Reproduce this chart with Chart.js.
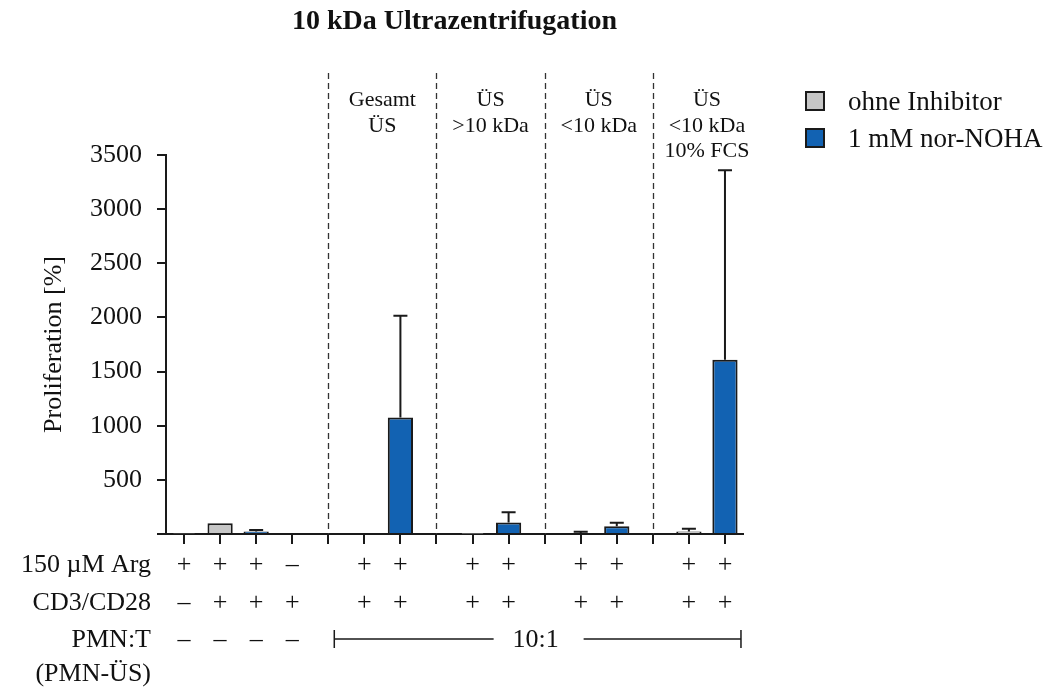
<!DOCTYPE html>
<html>
<head>
<meta charset="utf-8">
<script src="https://cdn.jsdelivr.net/npm/chart.js@4.4.1/dist/chart.umd.min.js"></script>
<style>
  html, body { margin: 0; padding: 0; background: #fff; }
  canvas { display: block; }
</style>
</head>
<body>
<canvas id="chartUltra" width="1055" height="688"></canvas>
<script>
// 16 slots: 4 controls, then a gap slot before each supernatant group
var categories = ['k1', 'k2', 'k3', 'k4', 'd1', 'g1', 'g2', 'd2', 'a1', 'a2', 'd3', 'b1', 'b2', 'd4', 'c1', 'c2'];
var ohneInhibitor = [3, 100, null, 0, null, 0, null, null, 2, null, null, 8, null, null, 22, null];
var ohneInhibitorErr = [0, 0, null, 0, null, 0, null, null, 0, null, null, 12, null, null, 27, null];
var norNoha = [null, null, 22, null, null, null, 1075, null, null, 107, null, null, 71, null, null, 1610];
var norNohaErr = [null, null, 14, null, null, null, 940, null, null, 93, null, null, 32, null, null, 1750];
var yTicks = [500, 1000, 1500, 2000, 2500, 3000, 3500];

var dividerSlots = [4, 7, 10, 13];
var groupSlots = [[5, 6], [8, 9], [11, 12], [14, 15]];
var groupHeaders = [['Gesamt', 'ÜS'], ['ÜS', '>10 kDa'], ['ÜS', '<10 kDa'], ['ÜS', '<10 kDa', '10% FCS']];

var rowLabels = ['150 µM Arg', 'CD3/CD28', 'PMN:T', '(PMN-ÜS)'];
var argRow = ['+', '+', '+', '–', '', '+', '+', '', '+', '+', '', '+', '+', '', '+', '+'];
var cdRow = ['–', '+', '+', '+', '', '+', '+', '', '+', '+', '', '+', '+', '', '+', '+'];
var pmnRow = ['–', '–', '–', '–', '', '', '', '', '', '', '', '', '', '', '', ''];
var pmnRatio = '10:1';

var serif = "'Liberation Serif', 'Times New Roman', serif";
var ink = '#1a1a1a';

var errorBars = {
  id: 'errorBars',
  afterDatasetsDraw: function (chart) {
    var ctx = chart.ctx;
    var y = chart.scales.y;
    var errs = [ohneInhibitorErr, norNohaErr];
    ctx.save();
    ctx.strokeStyle = ink;
    ctx.lineWidth = 2;
    chart.data.datasets.forEach(function (ds, i) {
      var meta = chart.getDatasetMeta(i);
      ds.data.forEach(function (v, j) {
        var e = errs[i][j];
        if (v == null || !e) return;
        var bar = meta.data[j];
        var top = y.getPixelForValue(v + e);
        ctx.beginPath();
        ctx.moveTo(bar.x, bar.y);
        ctx.lineTo(bar.x, top);
        ctx.moveTo(bar.x - 7, top);
        ctx.lineTo(bar.x + 7, top);
        ctx.stroke();
      });
    });
    ctx.restore();
  }
};

var decorations = {
  id: 'decorations',
  afterDraw: function (chart) {
    var ctx = chart.ctx;
    var x = chart.scales.x;
    var area = chart.chartArea;
    ctx.save();

    // dashed group separators
    ctx.strokeStyle = '#333';
    ctx.lineWidth = 1.3;
    ctx.setLineDash([6, 4]);
    dividerSlots.forEach(function (s) {
      var px = Math.round(x.getPixelForValue(s)) + 0.5;
      ctx.beginPath();
      ctx.moveTo(px, 73);
      ctx.lineTo(px, area.bottom);
      ctx.stroke();
    });
    ctx.setLineDash([]);

    // group headers
    ctx.fillStyle = '#111';
    ctx.font = '22px ' + serif;
    ctx.textAlign = 'center';
    ctx.textBaseline = 'alphabetic';
    groupHeaders.forEach(function (lines, g) {
      var cx = (x.getPixelForValue(groupSlots[g][0]) + x.getPixelForValue(groupSlots[g][1])) / 2;
      lines.forEach(function (t, k) {
        ctx.fillText(t, cx, 106 + k * 25.5);
      });
    });

    // condition table under the axis
    var baselines = [572, 610, 647, 681];
    ctx.font = '26px ' + serif;
    ctx.textAlign = 'right';
    rowLabels.forEach(function (t, r) {
      ctx.fillText(t, 151, baselines[r]);
    });
    ctx.textAlign = 'center';
    [argRow, cdRow, pmnRow].forEach(function (row, r) {
      row.forEach(function (t, j) {
        if (t) ctx.fillText(t, x.getPixelForValue(j), baselines[r]);
      });
    });

    // 10:1 bracket
    var bl = x.getPixelForValue(dividerSlots[0]) + 6;
    var br = x.getPixelForValue(categories.length - 1) + 16;
    var mid = (bl + br) / 2;
    var by = 639;
    ctx.strokeStyle = ink;
    ctx.lineWidth = 1.5;
    ctx.beginPath();
    ctx.moveTo(bl, by - 9); ctx.lineTo(bl, by + 9);
    ctx.moveTo(br, by - 9); ctx.lineTo(br, by + 9);
    ctx.moveTo(bl, by); ctx.lineTo(mid - 44, by);
    ctx.moveTo(mid + 46, by); ctx.lineTo(br, by);
    ctx.stroke();
    ctx.fillText(pmnRatio, mid - 2, baselines[2]);

    // legend
    ctx.textAlign = 'left';
    ctx.font = '27px ' + serif;
    chart.data.datasets.forEach(function (ds, i) {
      var top = 92 + i * 37;
      ctx.fillStyle = ds.backgroundColor;
      ctx.fillRect(806, top, 18, 18);
      ctx.strokeStyle = ink;
      ctx.lineWidth = 2;
      ctx.strokeRect(806, top, 18, 18);
      ctx.fillStyle = '#111';
      ctx.fillText(ds.label, 848, top + 18);
    });
    ctx.restore();
  }
};

new Chart(document.getElementById('chartUltra'), {
  type: 'bar',
  data: {
    labels: categories,
    datasets: [{
      label: 'ohne Inhibitor',
      data: ohneInhibitor,
      backgroundColor: '#c6c6c6',
      borderColor: ink,
      borderWidth: 2,
      borderSkipped: 'start'
    }, {
      label: '1 mM nor-NOHA',
      data: norNoha,
      backgroundColor: '#1262b2',
      borderColor: ink,
      borderWidth: 2,
      borderSkipped: 'start'
    }]
  },
  options: {
    responsive: false,
    animation: false,
    skipNull: true,
    categoryPercentage: 1,
    barPercentage: 0.7,
    layout: {
      padding: { left: 39, right: 312, top: 0, bottom: 0 }
    },
    plugins: {
      legend: { display: false },
      tooltip: { enabled: false },
      title: {
        display: true,
        fullSize: false,
        text: '10 kDa Ultrazentrifugation',
        color: '#111',
        font: { family: serif, size: 28, weight: 'bold' },
        padding: { top: 5, bottom: 116.4 }
      }
    },
    scales: {
      x: {
        type: 'category',
        offset: true,
        afterFit: function (s) { s.height = 154; },
        grid: {
          offset: false,
          drawOnChartArea: false,
          drawTicks: true,
          tickLength: 10,
          color: ink,
          lineWidth: 2
        },
        border: { display: true, color: ink, width: 2 },
        ticks: { display: false }
      },
      y: {
        min: 0,
        max: 3500,
        afterFit: function (s) { s.width = 127; },
        afterBuildTicks: function (s) {
          s.ticks = [0].concat(yTicks).map(function (v) { return { value: v }; });
        },
        grid: {
          drawOnChartArea: false,
          drawTicks: true,
          tickLength: 9,
          color: ink,
          lineWidth: 2
        },
        border: { display: true, color: ink, width: 2 },
        ticks: {
          padding: 15,
          color: '#111',
          font: { family: serif, size: 26 },
          callback: function (v) { return v === 0 ? '' : v; }
        },
        title: {
          display: true,
          text: 'Proliferation [%]',
          color: '#111',
          font: { family: serif, size: 26 },
          padding: 0
        }
      }
    }
  },
  plugins: [errorBars, decorations]
});
</script>
</body>
</html>
